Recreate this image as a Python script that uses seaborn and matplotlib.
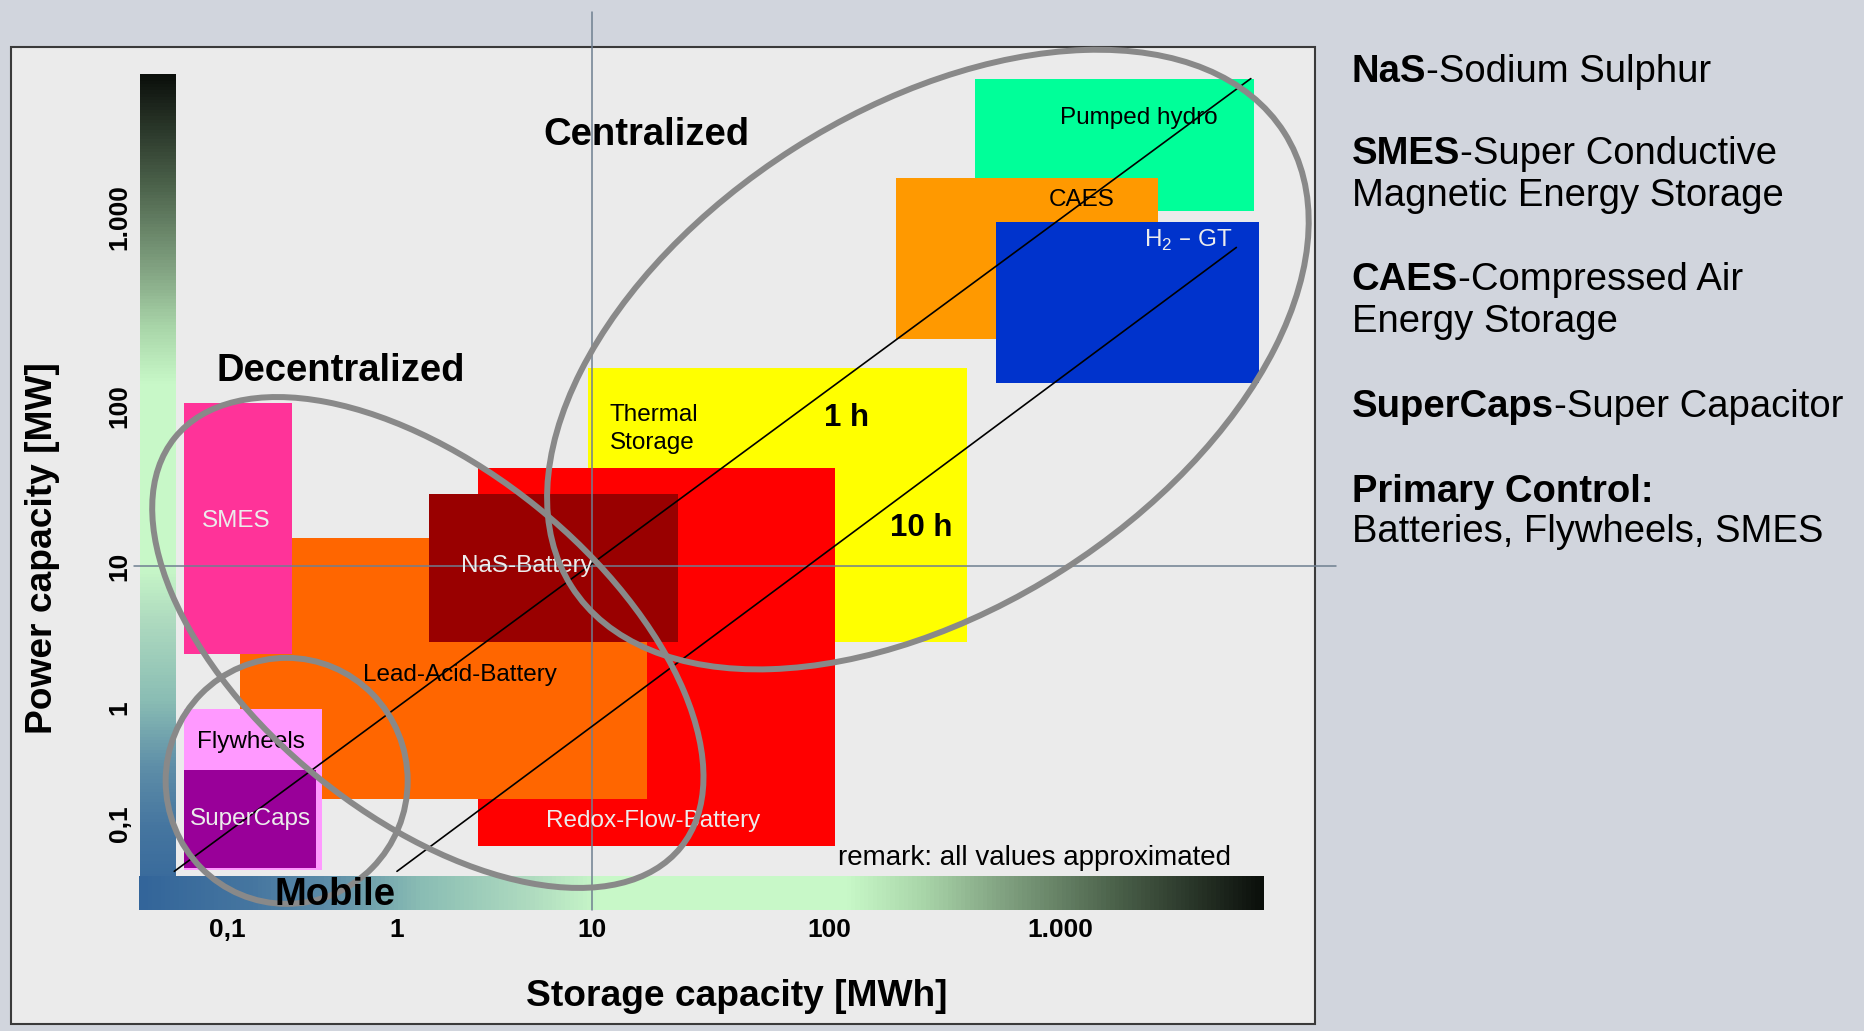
import numpy as np
import matplotlib
matplotlib.use('Agg')
import matplotlib.pyplot as plt
import seaborn as sns
from matplotlib.colors import LinearSegmentedColormap
from matplotlib.patches import Ellipse, Rectangle
from matplotlib.transforms import IdentityTransform, ScaledTranslation

# storage technologies, listed in drawing order (later ones lie on top)
technologies = ['Thermal Storage', 'Redox-Flow-Battery', 'Lead-Acid-Battery', 'NaS-Battery',
                'SMES', 'Flywheels', 'SuperCaps', 'Pumped hydro', 'CAES', 'H2-GT']
energy_min = [9.5, 2.6, 0.12, 1.46, 0.056, 0.056, 0.056, 430, 195, 530]        # MWh
energy_max = [395, 106, 17, 23, 0.24, 0.36, 0.335, 6900, 2650, 7300]
power_min = [2.9, 0.064, 0.165, 2.9, 2.4, 0.040, 0.042, 1080, 227, 133]        # MW
power_max = [158, 41, 15, 28, 104, 0.97, 0.29, 5400, 1600, 940]
tech_colors = ['#ffff00', '#ff0000', '#ff6600', '#990000', '#ff3399',
               '#ff99ff', '#990099', '#00ff99', '#ff9900', '#0033cc']

# label text inside the boxes and where it sits (MWh, MW)
tech_labels = ['Thermal\nStorage', 'Redox-Flow-Battery', 'Lead-Acid-Battery', 'NaS-Battery',
               'SMES', 'Flywheels', 'SuperCaps', 'Pumped hydro', 'CAES', 'H$_\\mathregular{2}$ – GT']
label_e = [11.9, 18.2, 2.11, 4.62, 0.114, 0.138, 0.137, 2190, 1243, 3610]
label_p = [75, 0.113, 1.80, 10.4, 19.9, 0.536, 0.118, 3450, 1271, 776]
light_labels = {'Redox-Flow-Battery', 'NaS-Battery', 'SMES', 'SuperCaps', 'H2-GT'}

# discharge-time lines (1 h and 10 h)
duration_names = ['1 h', '10 h']
duration_e = [[0.049, 6700], [1.0, 5800]]
duration_p = [[0.039, 5400], [0.039, 690]]
duration_label_e = [119, 251]
duration_label_p = [88, 17.9]

# application groups: name, label spot, ellipse centre (MWh, MW)
groups = ['Centralized', 'Decentralized', 'Mobile']
group_label_e = [17, 0.47, 0.432]
group_label_p = [2820, 158, 0.0258]
group_center_e = [268, 1.44, 0.2245]
group_center_p = [176, 2.89, 0.235]

tick_values = [0.1, 1, 10, 100, 1000]
tick_labels = ['0,1', '1', '10', '100', '1.000']

# the axes of the original are not evenly spaced per decade
decades = [-2, -1, 0, 1, 2, 3, 4]
x_px = np.array([57, 227, 397, 592, 829, 1060, 1291], float)
y_px = np.array([940, 824, 708, 566, 406, 217, 28], float)

notes = [('NaS', '-Sodium Sulphur'), ('SMES', '-Super Conductive'), ('', 'Magnetic Energy Storage'),
         ('CAES', '-Compressed Air'), ('', 'Energy Storage'), ('SuperCaps', '-Super Capacitor'),
         ('Primary Control:', ''), ('', 'Batteries, Flywheels, SMES')]
note_y = [71.5, 154.5, 196.5, 280.5, 322.5, 407.5, 491.5, 532.5]


def x_fwd(v):
    return np.interp(np.log10(np.clip(np.asarray(v, float), 1e-9, None)), decades, x_px)


def x_inv(t):
    return 10 ** np.interp(t, x_px, decades)


def y_fwd(v):
    return np.interp(np.log10(np.clip(np.asarray(v, float), 1e-9, None)), decades, -y_px)


def y_inv(t):
    return 10 ** np.interp(t, -y_px, decades)


sns.set_style('white')
plt.rcParams['font.family'] = ['Liberation Sans', 'DejaVu Sans']
plt.rcParams['text.color'] = 'black'
plt.rcParams['axes.labelcolor'] = 'black'
plt.rcParams['xtick.color'] = 'black'
plt.rcParams['ytick.color'] = 'black'

W, H = 1864, 1031
fig = plt.figure(figsize=(W / 100, H / 100), dpi=100, facecolor='#d1d5dd')


def box(x0, y0, x1, y1):
    return [x0 / W, 1 - y1 / H, (x1 - x0) / W, (y1 - y0) / H]


fig.add_artist(Rectangle((11 / W, 1 - 1024 / H), 1304 / W, 977 / H, transform=fig.transFigure,
                         facecolor='#ebebeb', edgecolor='#3a3a3a', linewidth=1.5, zorder=-5))

ramp = LinearSegmentedColormap.from_list('ramp', [
    (0.0, '#33659a'), (0.1, '#4676a0'), (0.17, '#5e8ea8'), (0.25, '#8abdb4'),
    (0.35, '#b0dcc0'), (0.41, '#c8f8c8'), (0.63, '#c8f8c8'), (0.70, '#a8d4a8'),
    (0.76, '#86a886'), (0.87, '#4b614a'), (1.0, '#0b0f0b')])
grad = np.linspace(0, 1, 256)
cbv = fig.add_axes(box(140, 74, 176, 910))
cbv.imshow(grad[::-1, None], aspect='auto', cmap=ramp)
cbv.axis('off')
cbh = fig.add_axes(box(139, 876, 1264, 910))
cbh.imshow(grad[None, :], aspect='auto', cmap=ramp)
cbh.axis('off')

ax = fig.add_axes(box(140, 74, 1264, 910))
ax.set_facecolor('none')
ax.set_xscale('function', functions=(x_fwd, x_inv))
ax.set_yscale('function', functions=(y_fwd, y_inv))

e0, e1 = np.array(energy_min), np.array(energy_max)
p0, p1 = np.array(power_min), np.array(power_max)
ax.bar(e0, p1 - p0, width=e1 - e0, bottom=p0, align='edge', color=tech_colors, linewidth=0)
ax.set_xlim(0.0308, 7640)
ax.set_ylim(0.0181, 5710)

for e, p in zip(duration_e, duration_p):
    sns.lineplot(x=e, y=p, ax=ax, color='black', linewidth=1.2, sort=False, zorder=3)

ax.axvline(10, ymin=0, ymax=1.074, color='#6f7f90', linewidth=1.1, clip_on=False, zorder=2.5)
ax.axhline(10, xmin=-0.005, xmax=1.064, color='#6f7f90', linewidth=1.1, clip_on=False, zorder=2.5)

# text in the plot sits a few pixels lower than its box centre
txt_tr = ax.transData + ScaledTranslation(0, -0.03, fig.dpi_scale_trans)

for name, txt, e, p in zip(technologies, tech_labels, label_e, label_p):
    col = '#ececec' if name in light_labels else 'black'
    ha = 'left' if name == 'Thermal Storage' else 'center'
    ax.text(e, p, txt, color=col, ha=ha, va='center', fontsize=17.5, linespacing=1.35,
            zorder=4, transform=txt_tr)

for name, e, p in zip(duration_names, duration_label_e, duration_label_p):
    ax.text(e, p, name, ha='center', va='center', fontsize=22.5, fontweight='bold', zorder=4,
            transform=txt_tr)

for name, e, p in zip(groups, group_label_e, group_label_p):
    ax.text(e, p, name, ha='center', va='center', fontsize=27.5, fontweight='bold', zorder=6,
            transform=txt_tr)

ax.text(773, 0.0543, 'remark: all values approximated', ha='center', va='center', fontsize=20,
        zorder=4, transform=txt_tr)

# grouping ellipses (size in pixels, angle in degrees), above the box labels
ellipse_size = [(845, 500, 32.5), (651, 348, -39), (242, 246, 0)]
for ce, cp, (w, h, ang) in zip(group_center_e, group_center_p, ellipse_size):
    cx, cy = ax.transData.transform((ce, cp))
    ax.add_artist(Ellipse((cx, cy), w, h, angle=ang, transform=IdentityTransform(), fill=False,
                          edgecolor='#898989', linewidth=4.3, zorder=5, clip_on=False))

ax.set_xticks(tick_values, labels=tick_labels)
ax.set_yticks(tick_values, labels=tick_labels)
ax.minorticks_off()
ax.tick_params(length=0, pad=6, labelsize=19, labelcolor='black')
for t in ax.get_xticklabels() + ax.get_yticklabels():
    t.set_fontweight('bold')
plt.setp(ax.get_yticklabels(), rotation=90, va='center')
for s in ax.spines.values():
    s.set_visible(False)

ax.set_xlabel('Storage capacity [MWh]', fontsize=26.7, fontweight='bold', va='center', color='black')
ax.xaxis.set_label_coords((737 - 140) / 1124, (910 - 996) / 836)
ax.set_ylabel('Power capacity [MW]', fontsize=26.7, fontweight='bold', va='center', color='black')
ax.yaxis.set_label_coords((42 - 140) / 1124, (910 - 548) / 836)

for (bold, rest), y in zip(notes, note_y):
    x = 1351.6 / W
    yy = 1 - y / H
    if bold:
        t = fig.text(x, yy, bold, fontsize=27.5, fontweight='bold', va='center', ha='left', color='black')
        if rest:
            ax.annotate(rest, xy=(1, 0.5), xycoords=t, va='center', ha='left', fontsize=27.5, color='black')
    else:
        fig.text(x, yy, rest, fontsize=27.5, va='center', ha='left', color='black')

fig.savefig('out.png', dpi=100, facecolor=fig.get_facecolor())
